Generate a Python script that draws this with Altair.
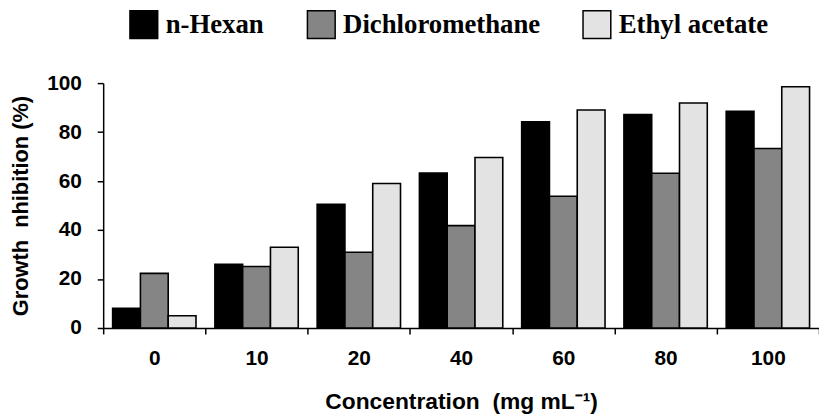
import altair as alt
import pandas as pd

concentrations = ["0", "10", "20", "40", "60", "80", "100"]
solvents = ["n-Hexan", "Dichloromethane", "Ethyl acetate"]
hexan = [8.0, 26.0, 50.5, 63.3, 84.2, 87.2, 88.5]
dichloromethane = [22.3, 25.1, 30.9, 41.8, 53.8, 63.2, 73.3]
ethyl_acetate = [5.0, 33.0, 59.0, 69.6, 89.0, 91.9, 98.5]
colors = ["#000000", "#858585", "#e3e3e3"]

rows = []
for name, vals in zip(solvents, [hexan, dichloromethane, ethyl_acetate]):
    for c, v in zip(concentrations, vals):
        rows.append({"Concentration": c, "Solvent": name, "Value": v})
df = pd.DataFrame(rows)

chart = alt.Chart(df).mark_bar(stroke="black", strokeWidth=1.6).encode(
    x=alt.X("Concentration:N", sort=concentrations,
            scale=alt.Scale(paddingInner=0, paddingOuter=0),
            axis=alt.Axis(title="Concentration\u00a0\u00a0(mg mL⁻¹)", labelAngle=0,
                          tickBand="extent", tickSize=6, labelPadding=14,
                          titlePadding=22, titleFontSize=23)),
    xOffset=alt.XOffset("Solvent:N", sort=solvents,
                        scale=alt.Scale(paddingInner=0, paddingOuter=0.34)),
    y=alt.Y("Value:Q", scale=alt.Scale(domain=[0, 100], nice=False),
            axis=alt.Axis(title="Growth\u00a0\u00a0nhibition (%)", values=[0, 20, 40, 60, 80, 100],
                          tickSize=6, labelPadding=16, titlePadding=14, titleFontSize=22)),
    color=alt.Color("Solvent:N", sort=solvents,
                    scale=alt.Scale(domain=solvents, range=colors),
                    legend=alt.Legend(title=None, orient="none", direction="horizontal",
                                      legendX=26, legendY=-74, padding=0,
                                      symbolType="square", symbolSize=784,
                                      symbolStrokeColor="black", symbolStrokeWidth=1.5,
                                      symbolOpacity=1,
                                      labelFont="Liberation Serif", labelFontWeight="bold",
                                      labelFontSize=27, labelColor="black",
                                      labelOffset=7, columnPadding=40, labelLimit=400)),
).properties(
    width=722, height=247,
    autosize=alt.AutoSizeParams(type="none"),
    padding={"left": 96, "top": 74, "right": 0, "bottom": 86},
).configure_view(stroke=None).configure_axis(
    domainColor="black", domainWidth=1.5, tickColor="black", tickWidth=1.5,
    labelFont="Liberation Sans", labelFontWeight="bold", labelFontSize=21, labelColor="black",
    titleFont="Liberation Sans", titleFontWeight="bold", titleColor="black",
    grid=False,
)

chart.save("out.html", embed_options={"renderer": "svg", "actions": False})
